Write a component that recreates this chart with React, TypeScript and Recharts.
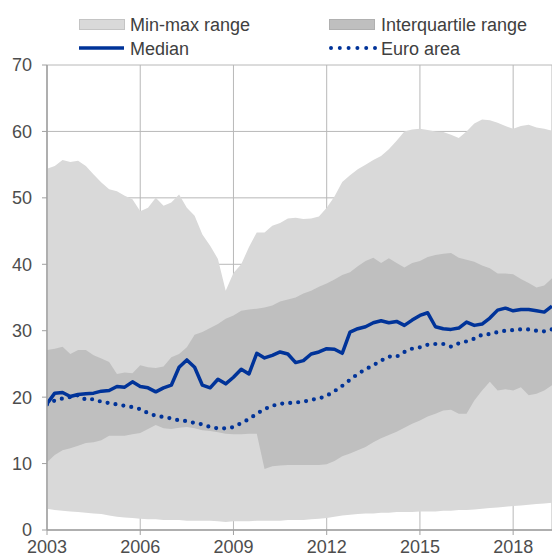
import { ComposedChart, Area, Line, XAxis, YAxis, CartesianGrid } from 'recharts'

// quarterly observations, 2003Q1 .. 2019Q2
const minVals = [
  3.2, 3.0, 2.9, 2.8, 2.7, 2.6, 2.5, 2.4, 2.2, 2.0,
  1.9, 1.8, 1.7, 1.6, 1.6, 1.5, 1.5, 1.5, 1.4, 1.4,
  1.4, 1.4, 1.3, 1.2, 1.3, 1.3, 1.3, 1.4, 1.4, 1.4,
  1.4, 1.5, 1.5, 1.5, 1.6, 1.7, 1.8, 2.0, 2.2, 2.3,
  2.4, 2.5, 2.5, 2.6, 2.6, 2.7, 2.7, 2.7, 2.8, 2.8,
  2.8, 2.9, 2.9, 3.0, 3.0, 3.1, 3.2, 3.3, 3.4, 3.5,
  3.6, 3.7, 3.8, 3.9, 4.0, 4.1,
]
const maxVals = [
  54.4, 54.8, 55.7, 55.4, 55.6, 54.8, 53.5, 52.3, 51.3, 51,
  50.3, 49.8, 48, 48.5, 50, 48.8, 49.3, 50.5, 48.5, 47.3,
  44.5, 42.8, 40.8, 36, 38.7, 40, 42.6, 44.8, 44.8, 45.8,
  46.2, 46.9, 47, 46.8, 46.9, 47.2, 48.5, 50.2, 52.4, 53.4,
  54.3, 55, 55.7, 56.3, 57.3, 58.6, 60, 60.3, 60.4, 60.2,
  60, 59.9, 59.5, 59, 60, 61.2, 61.8, 61.7, 61.3, 60.8,
  60.4, 60.8, 61, 60.6, 60.4, 60.1,
]
const q1Vals = [
  10.2, 11.3, 12, 12.3, 12.7, 13.1, 13.2, 13.5, 14.2, 14.2,
  14.2, 14.4, 14.6, 15.2, 15.8, 15.3, 15.2, 15.4, 15.5, 15.3,
  15, 14.9, 14.7, 14.5, 14.4, 14.4, 14.5, 14.5, 9.2, 9.6,
  9.7, 9.8, 9.8, 9.8, 9.8, 9.8, 9.9, 10.4, 11.1, 11.5,
  12, 12.5, 13.2, 13.8, 14.3, 14.8, 15.4, 16, 16.5, 17.1,
  17.5, 18, 18.1, 17.5, 17.5, 19.5, 21, 22.3, 21, 21.2,
  21, 21.5, 20.3, 20.5, 21, 21.8,
]
const q3Vals = [
  27.1, 27.3, 27.6, 26.5, 27.1, 27.1, 26.3, 25.8, 25.3, 23.5,
  23.7, 23.6, 24.8, 24.5, 24.4, 24.6, 26, 26.5, 27.5, 29.4,
  29.8, 30.4, 31, 31.8, 32.3, 33, 33.2, 33.3, 33.5, 33.8,
  34.4, 34.7, 35, 35.6, 36, 36.6, 37.1, 37.7, 38.4, 38.8,
  39.7, 40.5, 41, 40.2, 40.9, 40.2, 39.5, 40.2, 40.5, 41.1,
  41.4, 41.6, 41.7, 41, 40.7, 40.4, 39.8, 39.4, 38.6, 38.6,
  38.5, 37.8, 37.2, 36.5, 36.8, 37.9,
]
const medianVals = [
  19, 20.6, 20.7, 20.1, 20.4, 20.5, 20.6, 20.9, 21, 21.6,
  21.5, 22.3, 21.6, 21.4, 20.8, 21.4, 21.8, 24.5, 25.6, 24.5,
  21.8, 21.4, 22.7, 22, 23, 24.2, 23.5, 26.6, 25.9, 26.3,
  26.8, 26.5, 25.2, 25.5, 26.5, 26.8, 27.3, 27.2, 26.6, 29.8,
  30.3, 30.6, 31.2, 31.5, 31.2, 31.4, 30.8, 31.6, 32.3, 32.7,
  30.6, 30.3, 30.2, 30.4, 31.3, 30.8, 31, 31.9, 33.1, 33.4,
  33, 33.2, 33.2, 33, 32.8, 33.7,
]
const euroVals = [
  18.9, 19.5, 19.8, 20, 20.3, 19.6, 19.7, 19.3, 19.1, 18.9,
  18.7, 18.5, 18.2, 17.6, 17.2, 17, 16.8, 16.5, 16.4, 16.1,
  15.9, 15.5, 15.3, 15.3, 15.5, 16.1, 16.7, 17.5, 18.2, 18.7,
  19, 19.1, 19.2, 19.3, 19.6, 19.8, 20.2, 20.9, 21.7, 22.6,
  23.5, 24.2, 24.8, 25.5, 26.1, 26.1, 26.8, 27.3, 27.5, 27.9,
  28, 28, 27.6, 28.1, 28.4, 28.8, 29.4, 29.5, 29.8, 30,
  30.1, 30.2, 30.2, 30, 29.9, 30.2,
]

const yearTicks = [2003, 2006, 2009, 2012, 2015, 2018]
const valueTicks = [0, 10, 20, 30, 40, 50, 60, 70]

const data = medianVals.map((m, i) => ({
  t: 2003 + i / 4,
  mm: [minVals[i], maxVals[i]],
  iq: [q1Vals[i], q3Vals[i]],
  median: m,
  euro: euroVals[i],
}))

const FONT = '"Liberation Sans", Arial, sans-serif'
const TICK = { fontSize: 18, fill: '#4d4d4d', fontFamily: FONT }
const BLUE = '#003399'

function LegendBox() {
  const txt = { fontSize: 18, fill: '#404040', fontFamily: FONT }
  return (
    <svg width={552} height={62} style={{ position: 'absolute', left: 0, top: 0 }}>
      <rect x={79.5} y={19.5} width={45} height={10} fill="#d9d9d9" stroke="#c4c4c4" />
      <text x={130} y={30.5} {...txt}>Min-max range</text>
      <rect x={329.5} y={19.5} width={45} height={10} fill="#bfbfbf" stroke="#b0b0b0" />
      <text x={381} y={30.5} {...txt}>Interquartile range</text>
      <line x1={79} x2={124} y1={48} y2={48} stroke={BLUE} strokeWidth={3.5} />
      <text x={130} y={55} {...txt}>Median</text>
      <line x1={331} x2={376} y1={48} y2={48} stroke={BLUE} strokeWidth={4}
        strokeDasharray="0 8.8" strokeLinecap="round" />
      <text x={381} y={55} {...txt}>Euro area</text>
    </svg>
  )
}

export default function App() {
  return (
    <div style={{ position: 'absolute', left: 0, top: 0, width: 552, height: 556, background: '#fff' }}>
      <ComposedChart width={552} height={556} data={data}
        margin={{ top: 65, right: 0, left: 0, bottom: 0 }}>
        <CartesianGrid stroke="#b8b8b8" strokeWidth={1} />
        <XAxis dataKey="t" type="number" domain={[2003, 2019.25]} ticks={yearTicks}
          allowDataOverflow height={26} tick={TICK} tickSize={5} tickMargin={5}
          axisLine={{ stroke: '#a0a0a0', strokeWidth: 1.5 }} tickLine={{ stroke: '#a0a0a0' }} />
        <YAxis type="number" domain={[0, 70]} ticks={valueTicks} width={47}
          tick={TICK} tickSize={5} tickMargin={10}
          axisLine={{ stroke: '#a0a0a0', strokeWidth: 1.5 }} tickLine={{ stroke: '#a0a0a0' }} />
        <Area dataKey="mm" type="linear" fill="#d9d9d9" fillOpacity={1} stroke="none" isAnimationActive={false} />
        <Area dataKey="iq" type="linear" fill="#bfbfbf" fillOpacity={1} stroke="none" isAnimationActive={false} />
        <Line dataKey="median" type="linear" stroke={BLUE} strokeWidth={3.5} dot={false}
          strokeLinejoin="round" isAnimationActive={false} />
        <Line dataKey="euro" type="linear" stroke={BLUE} strokeWidth={4.2} dot={false}
          strokeDasharray="0 8" strokeLinecap="round" isAnimationActive={false} />
      </ComposedChart>
      <LegendBox />
    </div>
  )
}
